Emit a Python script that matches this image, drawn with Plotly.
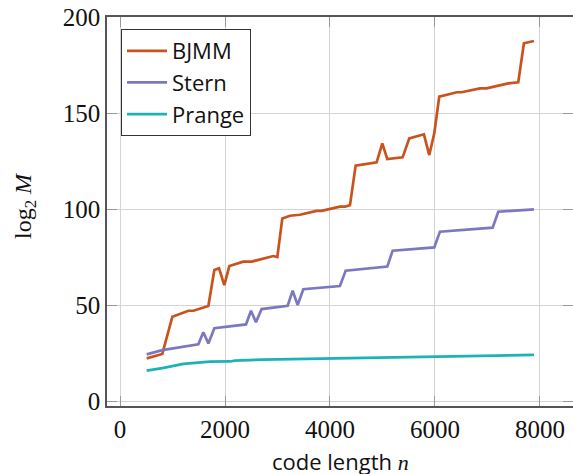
import plotly.graph_objects as go

bjmm_n = [508, 806, 997, 1302, 1400, 1683, 1797, 1886, 1987, 2083, 2349, 2508, 2921, 2997, 3092, 3238, 3429, 3746, 3841, 4190, 4286, 4381, 4489, 4889, 4997, 5092, 5384, 5511, 5790, 5892, 5987, 6082, 6286, 6413, 6508, 6857, 6984, 7397, 7587, 7695, 7886]
bjmm_v = [22.2, 24.5, 43.9, 47.0, 47.0, 49.5, 68.2, 69.1, 60.4, 70.3, 72.6, 72.6, 75.5, 75.0, 95.1, 96.5, 97.0, 99.0, 99.0, 101.2, 101.2, 102.0, 122.6, 124.3, 134.2, 126.0, 126.9, 136.8, 138.9, 128.1, 139.4, 158.5, 159.9, 160.8, 160.8, 162.8, 162.8, 165.4, 166.0, 186.3, 187.5]

stern_n = [508, 806, 1492, 1587, 1683, 1797, 2400, 2495, 2590, 2698, 3194, 3289, 3384, 3492, 4190, 4299, 5092, 5194, 5987, 6095, 7099, 7206, 7886]
stern_v = [24.3, 26.5, 29.5, 35.8, 30.0, 37.9, 39.9, 47.0, 41.0, 47.9, 49.6, 57.5, 50.0, 58.2, 59.9, 67.9, 70.0, 78.3, 80.0, 88.2, 90.3, 98.6, 99.8]

prange_n = [508, 806, 1206, 1714, 2100, 2190, 2729, 4063, 4200, 5968, 7886]
prange_v = [15.8, 17.1, 19.3, 20.5, 20.6, 21.0, 21.6, 22.2, 22.5, 23.4, 24.0]

x_ticks = [0, 2000, 4000, 6000, 8000]
y_ticks = [0, 50, 100, 150, 200]

fig = go.Figure()
fig.add_trace(go.Scatter(x=bjmm_n, y=bjmm_v, mode="lines", name="BJMM",
                         line=dict(color="#c9521d", width=2.7)))
fig.add_trace(go.Scatter(x=stern_n, y=stern_v, mode="lines", name="Stern",
                         line=dict(color="#7b78c0", width=2.7)))
fig.add_trace(go.Scatter(x=prange_n, y=prange_v, mode="lines", name="Prange",
                         line=dict(color="#1db3b6", width=2.7)))

axis_common = dict(
    showgrid=True, gridcolor="#d4d4d4", gridwidth=1,
    showline=True, linecolor="#555555", linewidth=1.5, mirror="ticks",
    ticks="inside", ticklen=10, tickcolor="#999999", tickwidth=1,
    zeroline=False, automargin=False,
    tickfont=dict(family="Liberation Serif", size=25, color="#111111"),
)

fig.update_layout(
    width=573, height=474,
    margin=dict(l=107, r=0, t=17, b=68),
    plot_bgcolor="white", paper_bgcolor="white",
    showlegend=True,
    legend=dict(x=0.03, y=0.969, xanchor="left", yanchor="top",
                bordercolor="#333333", borderwidth=1, bgcolor="white",
                font=dict(family="Open Sans", size=22, color="#111111"),
                itemwidth=40, tracegroupgap=0),
    xaxis=dict(axis_common, range=[-248, 8630], tickvals=x_ticks,
               ticktext=[str(t) for t in x_ticks]),
    yaxis=dict(axis_common, range=[-2.6, 200], tickvals=y_ticks,
               ticktext=[str(t) for t in y_ticks]),
    annotations=[
        dict(text='code length <span style="font-family:Liberation Serif"><i>n</i></span>',
             xref="paper", yref="paper", x=(340 - 107) / 466, y=(406 - 461) / 389,
             xanchor="center", yanchor="middle", showarrow=False,
             font=dict(family="Open Sans", size=22, color="#111111")),
        dict(text="log<sub>2</sub> <i>M</i>",
             xref="paper", yref="paper", x=(25 - 107) / 466, y=(406 - 206) / 389,
             xanchor="center", yanchor="middle", showarrow=False, textangle=-90,
             font=dict(family="Liberation Serif", size=24, color="#111111")),
    ],
)

fig.write_html("out.html", config={"displayModeBar": False},
               post_script="document.body.style.margin='0px';document.body.style.overflow='hidden';")
